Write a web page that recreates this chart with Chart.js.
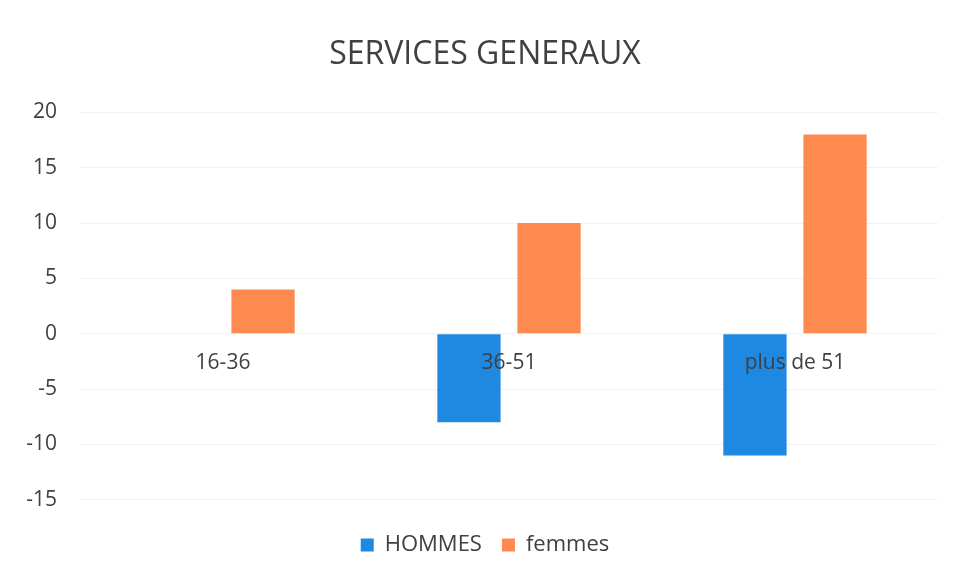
<!DOCTYPE html>
<html>
<head>
<meta charset="utf-8">
<title>SERVICES GENERAUX</title>
<script src="https://cdn.jsdelivr.net/npm/chart.js@4.4.1/dist/chart.umd.min.js"></script>
<style>
  html, body { margin: 0; padding: 0; background: #fff; }
  #wrap { width: 970px; height: 584px; position: relative; }
</style>
</head>
<body>
<div id="wrap"><canvas id="chart"></canvas></div>
<script>
// Data
const categories = ['16-36', '36-51', 'plus de 51'];
const hommes = [0, -8, -11];
const femmes = [4, 10, 18];
const yTicks = [20, 15, 10, 5, 0, -5, -10, -15];

const TEXT = '#404040';
const FONT = 'Open Sans';

const ctx = document.getElementById('chart').getContext('2d');
new Chart(ctx, {
  type: 'bar',
  data: {
    labels: categories,
    datasets: [
      {
        label: 'HOMMES',
        data: hommes,
        backgroundColor: '#1f88e0',
        barPercentage: 0.79,
        categoryPercentage: 0.56,
      },
      {
        label: 'femmes',
        data: femmes,
        backgroundColor: '#ff8a50',
        barPercentage: 0.79,
        categoryPercentage: 0.56,
      },
    ],
  },
  options: {
    responsive: true,
    maintainAspectRatio: false,
    animation: false,
    layout: {
      padding: { left: 10, right: 10, bottom: 18 },
    },
    plugins: {
      title: {
        display: true,
        text: 'SERVICES GENERAUX',
        color: TEXT,
        font: { family: FONT, size: 32, weight: 'normal' },
        padding: { top: 36, bottom: 38 },
      },
      legend: {
        position: 'bottom',
        // empty legend title only adds space above the items
        title: {
          display: true,
          text: '',
          font: { size: 1 },
          padding: { top: 13, bottom: 0 },
        },
        labels: {
          color: TEXT,
          font: { family: FONT, size: 22 },
          boxWidth: 13,
          boxHeight: 13,
          padding: 20,
        },
      },
      tooltip: { enabled: false },
    },
    scales: {
      y: {
        min: -15,
        max: 20,
        afterBuildTicks: axis => {
          axis.ticks = yTicks.map(v => ({ value: v }));
        },
        afterFit: axis => {
          axis.width = 70;
        },
        ticks: {
          color: TEXT,
          font: { family: FONT, size: 21 },
          padding: 23,
        },
        grid: { color: '#f2f2f2', drawTicks: false },
        border: { display: false },
      },
      // empty right axis, only keeps the plot off the right edge
      yRight: {
        position: 'right',
        grid: { display: false },
        border: { display: false },
        ticks: { display: false },
        afterFit: axis => {
          axis.width = 22;
        },
      },
      x: {
        position: { y: 0 },
        grid: { display: false },
        border: { display: false },
        ticks: {
          z: 1,
          color: TEXT,
          font: { family: FONT, size: 21 },
          padding: 9,
        },
      },
    },
  },
});
</script>
</body>
</html>
